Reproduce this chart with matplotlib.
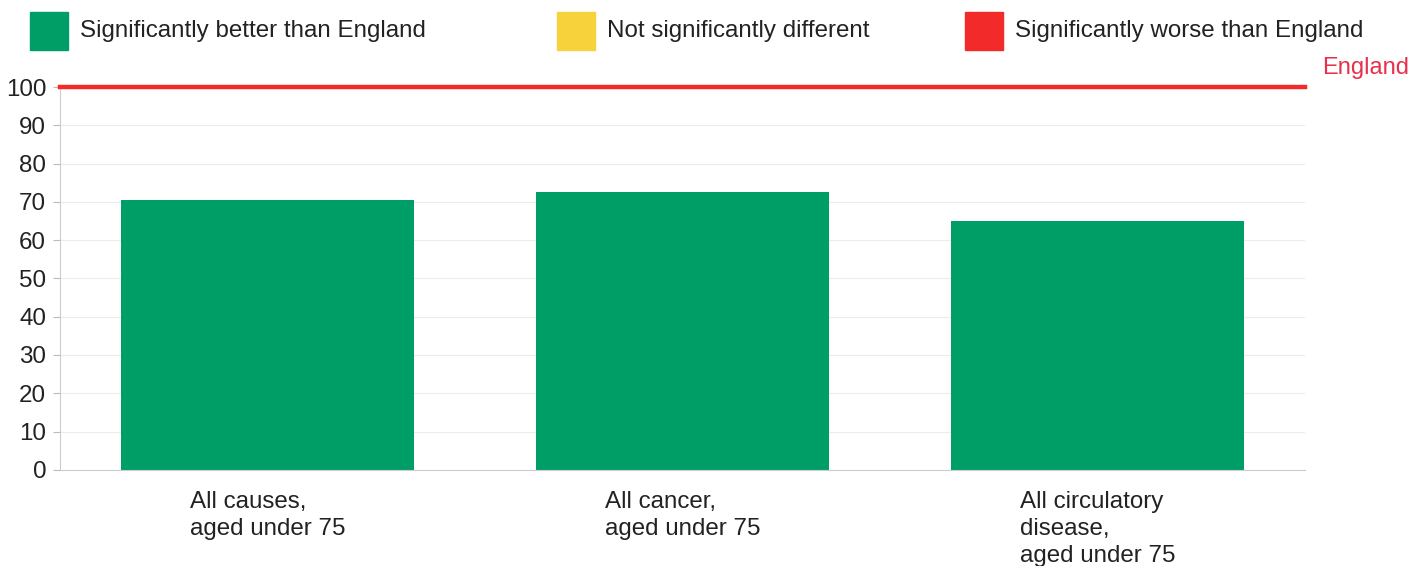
import numpy as np
import matplotlib.pyplot as plt
from matplotlib.patches import Rectangle

# Data
categories = ['All causes,\naged under 75',
              'All cancer,\naged under 75',
              'All circulatory\ndisease,\naged under 75']
values = [70.4, 72.5, 65.0]
england_value = 100
legend_labels = ['Significantly better than England',
                 'Not significantly different',
                 'Significantly worse than England']

green = '#009e67'
yellow = '#f7d23a'
red = '#f22a2a'

plt.rcParams['font.family'] = ['Liberation Sans', 'DejaVu Sans']
fs = 17.4

fig = plt.figure(figsize=(14.25, 5.66), dpi=100)
ax = fig.add_axes([0.0421, 0.170, 0.8737, 0.676])

x = np.arange(len(categories))
ax.bar(x, values, width=0.706, color=green, zorder=2)
ax.axhline(england_value, color=red, lw=3.2, zorder=3, clip_on=False)

ax.set_xlim(-0.5, len(categories) - 0.5)
ax.set_ylim(0, 100)
ax.set_yticks(np.arange(0, 101, 10))
ax.yaxis.grid(True, color='#ececec', lw=0.8, zorder=0)
ax.tick_params(axis='y', length=5, color='#bbbbbb', pad=5,
               labelsize=fs, labelcolor='#222222')
ax.set_xticks(x)
ax.set_xticklabels(categories, multialignment='left', fontsize=fs,
                   color='#222222', va='top', linespacing=1.32)
ax.tick_params(axis='x', length=0, pad=15)

for side in ['top', 'right']:
    ax.spines[side].set_visible(False)
for side in ['left', 'bottom']:
    ax.spines[side].set_color('#cccccc')
    ax.spines[side].set_linewidth(0.8)

ax.text(1.0137, 1.05, 'England', transform=ax.transAxes, color='#e8304a',
        fontsize=17, ha='left', va='center')

# Legend along the top
sq_w, sq_h = 38 / 1425, 38 / 566
legend_x = [30 / 1425, 557 / 1425, 965 / 1425]
for lx, lab, col in zip(legend_x, legend_labels, [green, yellow, red]):
    fig.patches.append(Rectangle((lx, 1 - 50 / 566), sq_w, sq_h,
                                 transform=fig.transFigure, color=col))
    fig.text(lx + 50 / 1425, 1 - 31 / 566, lab, fontsize=fs,
             color='#222222', ha='left', va='center')

plt.savefig('out.png', dpi=100)
